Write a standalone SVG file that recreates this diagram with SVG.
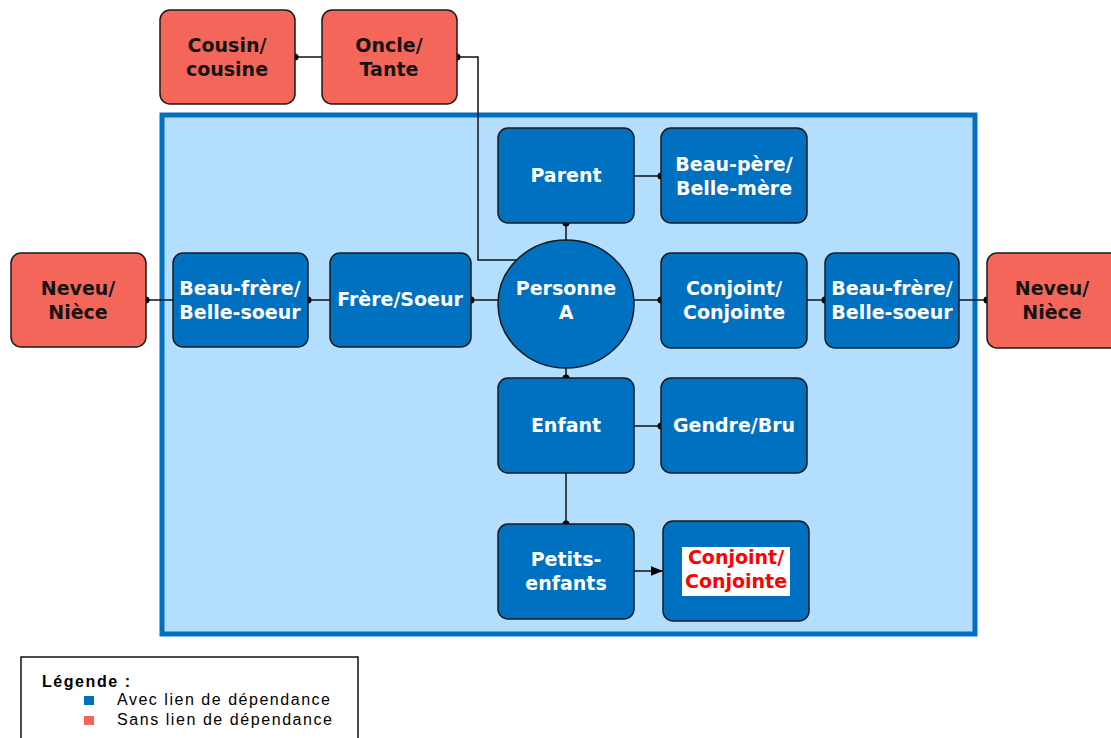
<svg xmlns="http://www.w3.org/2000/svg" width="1111" height="738" viewBox="0 0 1111 738">
<style>
.b{fill:#0070C0;stroke:#1a1a1a;stroke-width:1.5}
.r{fill:#F4665A;stroke:#1a1a1a;stroke-width:1.5}
.t{font-family:"DejaVu Sans",sans-serif;font-weight:bold;font-size:19px;text-anchor:middle}
.w{fill:#ffffff}
.k{fill:#141414}
.c{fill:none;stroke:#111;stroke-width:1.5}
.d{fill:#000}
.lg{font-family:"Liberation Sans",Arial,sans-serif;font-size:16px;fill:#000}
</style>
<defs>
<marker id="arr" viewBox="0 0 10 10" refX="10" refY="5" markerWidth="12" markerHeight="12" markerUnits="userSpaceOnUse" orient="auto">
<path d="M0,1 L10,5 L0,9 z" fill="#000"/>
</marker>
</defs>
<rect width="1111" height="738" fill="#ffffff"/>
<rect id="container" x="162" y="115" width="813" height="519" fill="#B3DEFD" stroke="#0070C0" stroke-width="5"/>
<g id="connectors">
<path class="c" d="M295,57 H322"/>
<path class="c" d="M457,57 H478 V260 H517"/>
<path class="c" d="M566,223 V240"/>
<path class="c" d="M634,176 H661"/>
<path class="c" d="M146,300 H173"/>
<path class="c" d="M308,300 H330"/>
<path class="c" d="M471,300 H498"/>
<path class="c" d="M634,300 H661"/>
<path class="c" d="M807,300 H825"/>
<path class="c" d="M959,300 H987"/>
<path class="c" d="M566,368 V378"/>
<path class="c" d="M634,426 H661"/>
<path class="c" d="M566,473 V524"/>
<path class="c" d="M634,571 H663" marker-end="url(#arr)"/>
<circle class="d" cx="295" cy="57" r="3.5"/>
<circle class="d" cx="457" cy="57" r="3.5"/>
<circle class="d" cx="566" cy="223" r="3.5"/>
<circle class="d" cx="661" cy="176" r="3.5"/>
<circle class="d" cx="146" cy="300" r="3.5"/>
<circle class="d" cx="308" cy="300" r="3.5"/>
<circle class="d" cx="471" cy="300" r="3.5"/>
<circle class="d" cx="661" cy="300" r="3.5"/>
<circle class="d" cx="825" cy="300" r="3.5"/>
<circle class="d" cx="987" cy="300" r="3.5"/>
<circle class="d" cx="566" cy="378" r="3.5"/>
<circle class="d" cx="661" cy="426" r="3.5"/>
<circle class="d" cx="566" cy="524" r="3.5"/>
</g>
<g id="cousin"><rect class="r" x="160" y="10" width="135" height="94" rx="10"/><text class="t k" x="227" y="52">Cousin/</text><text class="t k" x="227" y="76">cousine</text></g>
<g id="oncle"><rect class="r" x="322" y="10" width="135" height="94" rx="10"/><text class="t k" x="389" y="52">Oncle/</text><text class="t k" x="389" y="76">Tante</text></g>
<g id="parent"><rect class="b" x="498" y="128" width="136" height="95" rx="10"/><text class="t w" x="566" y="182">Parent</text></g>
<g id="beaupere"><rect class="b" x="661" y="128" width="146" height="95" rx="10"/><text class="t w" x="734" y="171">Beau-père/</text><text class="t w" x="734" y="195">Belle-mère</text></g>
<g id="neveu-left"><rect class="r" x="11" y="253" width="135" height="94" rx="10"/><text class="t k" x="78" y="295">Neveu/</text><text class="t k" x="78" y="319">Nièce</text></g>
<g id="beaufrere-left"><rect class="b" x="173" y="253" width="135" height="94" rx="10"/><text class="t w" x="240" y="295">Beau-frère/</text><text class="t w" x="240" y="319">Belle-soeur</text></g>
<g id="frere"><rect class="b" x="330" y="253" width="141" height="94" rx="10"/><text class="t w" x="400" y="306">Frère/Soeur</text></g>
<g id="personne"><ellipse class="b" cx="566" cy="304" rx="68" ry="64"/><text class="t w" x="566" y="295">Personne</text><text class="t w" x="566" y="319">A</text></g>
<g id="conjoint"><rect class="b" x="661" y="253" width="146" height="95" rx="10"/><text class="t w" x="734" y="295">Conjoint/</text><text class="t w" x="734" y="319">Conjointe</text></g>
<g id="beaufrere-right"><rect class="b" x="825" y="253" width="134" height="95" rx="10"/><text class="t w" x="892" y="295">Beau-frère/</text><text class="t w" x="892" y="319">Belle-soeur</text></g>
<g id="neveu-right"><rect class="r" x="987" y="253" width="135" height="95" rx="10"/><text class="t k" x="1052" y="295">Neveu/</text><text class="t k" x="1052" y="319">Nièce</text></g>
<g id="enfant"><rect class="b" x="498" y="378" width="136" height="95" rx="10"/><text class="t w" x="566" y="432">Enfant</text></g>
<g id="gendre"><rect class="b" x="661" y="378" width="146" height="95" rx="10"/><text class="t w" x="734" y="432">Gendre/Bru</text></g>
<g id="petits"><rect class="b" x="498" y="524" width="136" height="95" rx="10"/><text class="t w" x="566" y="566">Petits-</text><text class="t w" x="566" y="590">enfants</text></g>
<g id="conjoint-red"><rect class="b" x="663" y="521" width="146" height="100" rx="10"/><rect x="682" y="547" width="108" height="49" fill="#ffffff"/><text class="t" fill="#FF0000" x="736" y="564">Conjoint/</text><text class="t" fill="#FF0000" x="736" y="588">Conjointe</text></g>
<g id="legend">
<rect x="21" y="657" width="337" height="90" fill="#ffffff" stroke="#111" stroke-width="1.5"/>
<text class="lg" x="42" y="687" font-weight="bold" textLength="88" lengthAdjust="spacing">Légende :</text>
<rect x="84" y="696" width="10" height="9" fill="#0070C0"/>
<text class="lg" x="117" y="705" textLength="213" lengthAdjust="spacing">Avec lien de dépendance</text>
<rect x="84" y="716" width="10" height="9" fill="#F4665A"/>
<text class="lg" x="117" y="725" textLength="215" lengthAdjust="spacing">Sans lien de dépendance</text>
</g>
</svg>
